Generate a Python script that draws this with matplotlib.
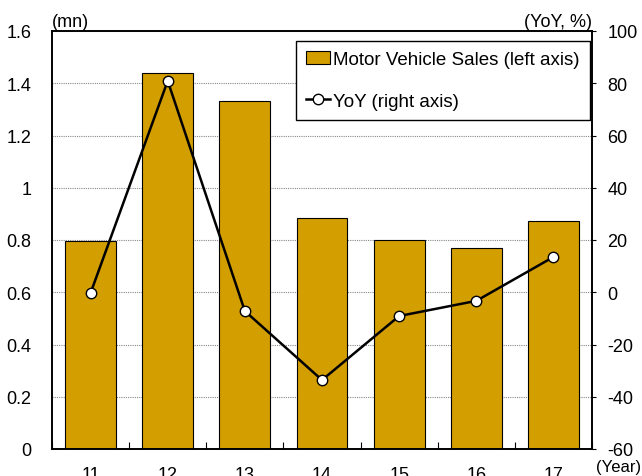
import matplotlib.pyplot as plt
import numpy as np

plt.rcParams["font.family"] = ["Liberation Sans", "DejaVu Sans"]
plt.rcParams["axes.unicode_minus"] = False

years = ["11", "12", "13", "14", "15", "16", "17"]
sales = [0.796, 1.439, 1.332, 0.884, 0.800, 0.769, 0.873]
yoy = [-0.3, 80.9, -7.2, -33.6, -9.1, -3.3, 13.5]

x = np.arange(len(years))

fig = plt.figure(figsize=(6.42, 4.77), dpi=100)
ax = fig.add_axes([52 / 642, 27 / 477, 540 / 642, 418 / 477])
ax2 = ax.twinx()

bars = ax.bar(x, sales, width=0.66, color="#D39E00", edgecolor="black",
              linewidth=0.8, zorder=2, label="Motor Vehicle Sales (left axis)")
line, = ax2.plot(x, yoy, color="black", linewidth=1.8, marker="o", markersize=7.5,
                 markerfacecolor="white", markeredgecolor="black", markeredgewidth=1,
                 zorder=3, label="YoY (right axis)")

ax.set_xlim(-0.5, len(years) - 0.5)
ax.set_ylim(0, 1.6)
ax.set_yticks(np.arange(0, 1.61, 0.2))
ax.set_yticklabels(["0", "0.2", "0.4", "0.6", "0.8", "1", "1.2", "1.4", "1.6"])
ax2.set_ylim(-60, 100)
ax2.set_yticks(np.arange(-60, 101, 20))

ax.yaxis.grid(True, linestyle=(0, (1, 1)), color="#888888", linewidth=0.8, zorder=0)
ax.set_axisbelow(True)

# ticks between categories, labels at centres
ax.set_xticks(np.arange(-0.5, len(years), 1.0))
ax.set_xticklabels([])
ax.set_xticks(x, minor=True)
ax.set_xticklabels(years, minor=True)
ax.tick_params(axis="x", which="major", direction="in", length=5, width=0.8)
ax.tick_params(axis="x", which="minor", length=0, pad=12, labelsize=13)
ax.tick_params(axis="y", direction="in", length=0, labelsize=13, pad=15)
ax2.tick_params(axis="y", direction="out", length=3, labelsize=13, pad=8)

for a in (ax, ax2):
    for s in a.spines.values():
        s.set_linewidth(1.2)

ax.text(0.0, 1.003, "(mn)", transform=ax.transAxes, fontsize=13, ha="left", va="bottom")
ax2.text(1.0, 1.003, "(YoY, %)", transform=ax2.transAxes, fontsize=13, ha="right", va="bottom")
ax.text(1.008, -0.043, "(Year)", transform=ax.transAxes, fontsize=12, ha="left", va="center")

leg = ax2.legend([bars, line], [bars.get_label(), line.get_label()],
                 loc="upper right", bbox_to_anchor=(0.996, 0.976), fontsize=13.5,
                 frameon=True, fancybox=False, edgecolor="black", framealpha=1,
                 handlelength=1.3, handletextpad=0.15, labelspacing=1.3,
                 borderpad=0.55, borderaxespad=0)
leg.get_frame().set_linewidth(1.0)

fig.savefig("out.png", dpi=100)
